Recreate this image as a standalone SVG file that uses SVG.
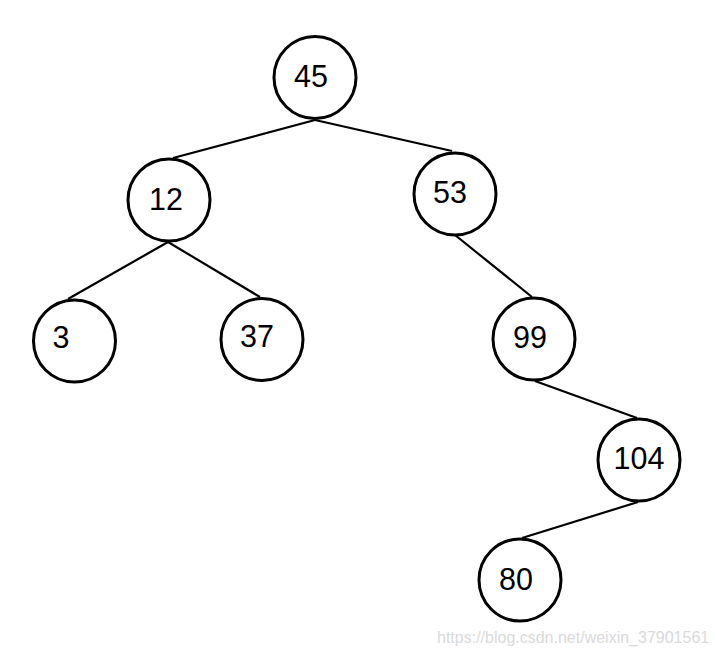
<svg xmlns="http://www.w3.org/2000/svg" width="716" height="656" viewBox="0 0 716 656">
<style>
.n circle{fill:#fff;stroke:#000;stroke-width:3}
.n text{font-family:"Liberation Sans",Arial,sans-serif;font-size:30.5px;fill:#000;text-anchor:middle}
.e line{stroke:#000;stroke-width:2.2}
.wm{font-family:"Liberation Sans",Arial,sans-serif;font-size:16px;fill:#dadada}
</style>
<rect width="716" height="656" fill="#fff"/>
<g id="connectors" class="e">
<line x1="315" y1="120" x2="173" y2="158"/>
<line x1="315" y1="120" x2="452" y2="151"/>
<line x1="168" y1="242" x2="68" y2="299"/>
<line x1="168" y1="242" x2="260" y2="297"/>
<line x1="455" y1="235" x2="532" y2="297"/>
<line x1="535" y1="381" x2="637" y2="418"/>
<line x1="638" y1="502" x2="522" y2="538"/>
</g>
<g id="n45" class="n"><circle cx="315" cy="77.5" r="41"/><text x="311" y="87">45</text></g>
<g id="n12" class="n"><circle cx="169" cy="200" r="41"/><text x="166" y="210">12</text></g>
<g id="n53" class="n"><circle cx="455" cy="194" r="41"/><text x="450" y="203">53</text></g>
<g id="n3" class="n"><circle cx="74.5" cy="341" r="41"/><text x="61" y="348">3</text></g>
<g id="n37" class="n"><circle cx="262" cy="339.5" r="41"/><text x="257" y="347">37</text></g>
<g id="n99" class="n"><circle cx="534" cy="339" r="41"/><text x="530" y="348">99</text></g>
<g id="n104" class="n"><circle cx="639" cy="460" r="41"/><text x="639" y="469">104</text></g>
<g id="n80" class="n"><circle cx="520" cy="580" r="41"/><text x="516" y="590">80</text></g>
<text class="wm" x="437" y="643">https://blog.csdn.net/weixin_37901561</text>
</svg>
